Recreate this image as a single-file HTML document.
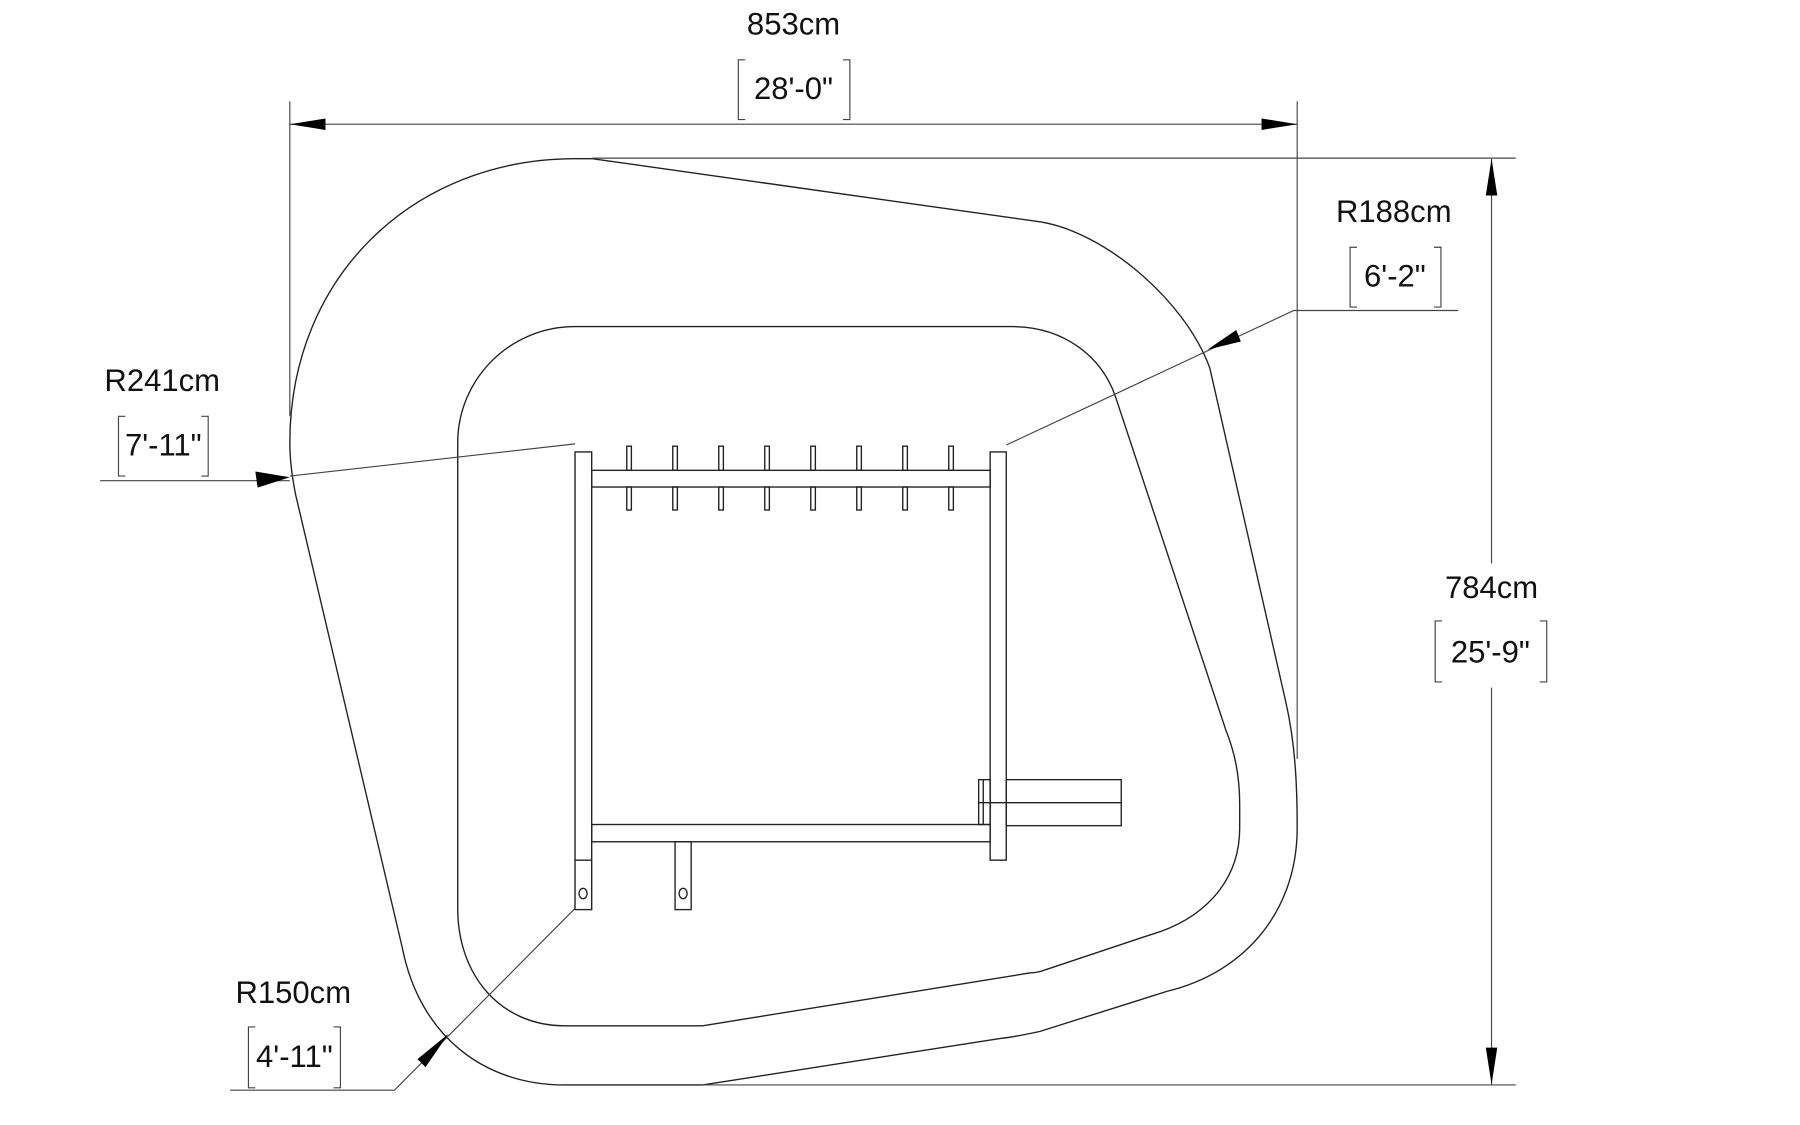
<!DOCTYPE html>
<html><head><meta charset="utf-8"><style>
html,body{margin:0;padding:0;background:#fff;}
svg{display:block}
text{font-family:"Liberation Sans",sans-serif;font-size:27px;fill:#111;text-anchor:middle}
</style></head><body>
<svg width="1800" height="1125" viewBox="0 0 1565.2 978.3" xmlns="http://www.w3.org/2000/svg">
<g fill="none" stroke="#222" stroke-width="1.2">
<path d="M252 385 C252 240 360 138 500 138 L515 138 L905 193 C960 202 1030 260 1052 320 L1118 610 C1126 645 1128 680 1128 720 C1128 790 1085 845 1015 862 L904 897 C890 900 880 902 870 903 L611 943.5 L491 943.5 C420 943.5 365 900 350 825 L257 430 C254 415 252 400 252 385 Z"/>
<path d="M500 284 L880 284 C925 284 958 310 970 345 L1066 635 C1074 655 1078 675 1078 700 L1078 720 C1078 768 1045 800 1000 813 L910 843 C905 845 900 846 896 846 L611 892 L491 892 C435 892 398 848 398 790 L398 385 C398 330 443 284 500 284 Z"/>
<rect x="500" y="393" width="14.5" height="398"/>
<line x1="500" y1="748" x2="514.5" y2="748"/>
<rect x="861" y="393" width="14" height="355"/>
<rect x="514.5" y="409" width="346.5" height="14.5"/>
<rect x="514.5" y="717" width="346.5" height="15"/>
<rect x="587" y="732" width="14" height="59"/>
<rect x="851" y="678" width="10" height="39"/>
<line x1="855" y1="678" x2="855" y2="717"/>
<rect x="875" y="678" width="100" height="40"/>
<line x1="851" y1="698" x2="975" y2="698"/>
<ellipse cx="507" cy="777" rx="3.5" ry="4.5"/>
<ellipse cx="594" cy="777" rx="3.5" ry="4.5"/>
<g>
<rect x="545" y="388" width="4" height="21"/><rect x="545" y="423.5" width="4" height="20"/>
<rect x="585" y="388" width="4" height="21"/><rect x="585" y="423.5" width="4" height="20"/>
<rect x="625" y="388" width="4" height="21"/><rect x="625" y="423.5" width="4" height="20"/>
<rect x="665" y="388" width="4" height="21"/><rect x="665" y="423.5" width="4" height="20"/>
<rect x="705" y="388" width="4" height="21"/><rect x="705" y="423.5" width="4" height="20"/>
<rect x="745" y="388" width="4" height="21"/><rect x="745" y="423.5" width="4" height="20"/>
<rect x="785" y="388" width="4" height="21"/><rect x="785" y="423.5" width="4" height="20"/>
<rect x="825" y="388" width="4" height="21"/><rect x="825" y="423.5" width="4" height="20"/>
</g>
</g>
<g fill="none" stroke="#444" stroke-width="1">
<line x1="252" y1="88" x2="252" y2="362"/>
<line x1="1128" y1="88" x2="1128" y2="660"/>
<line x1="252" y1="108" x2="1128" y2="108"/>
<line x1="515" y1="137.5" x2="1318" y2="137.5"/>
<line x1="611" y1="943.5" x2="1318" y2="943.5"/>
<line x1="1297" y1="138" x2="1297" y2="490"/>
<line x1="1297" y1="598" x2="1297" y2="943"/>
<polyline points="1268,270 1125,270 875,387"/>
<polyline points="87,418 252,418"/>
<line x1="252" y1="414" x2="500" y2="386"/>
<polyline points="200,948 343,948 500,790"/>
<path d="M648 52 H642 V104 H648 M733 52 H739 V104 H733"/>
<path d="M1180 215 H1174 V267 H1180 M1247 215 H1253 V267 H1247"/>
<path d="M109 362 H103 V414 H109 M175 362 H181 V414 H175"/>
<path d="M1254 540 H1248 V593 H1254 M1339 540 H1345 V593 H1339"/>
<path d="M222 893 H216 V946 H222 M290 893 H296 V946 H290"/>
</g>
<g fill="#000" stroke="none">
<polygon points="252,108 283,103 283,113"/>
<polygon points="1128,108 1097,103 1097,113"/>
<polygon points="1297,138 1292,170 1302,170"/>
<polygon points="1297,943 1292,911 1302,911"/>
<polygon points="252,415 222,410 224,424"/>
<polygon points="1050,304 1079,297 1075,287"/>
<polygon points="390,899 370,928 363,921"/>
</g>
<text x="690" y="30">853cm</text>
<text x="690" y="86">28'-0"</text>
<text x="1212" y="193">R188cm</text>
<text x="1213" y="249">6'-2"</text>
<text x="141" y="340">R241cm</text>
<text x="142" y="396">7'-11"</text>
<text x="1297" y="520">784cm</text>
<text x="1296" y="576">25'-9"</text>
<text x="255" y="872">R150cm</text>
<text x="256" y="928">4'-11"</text>
</svg>
</body></html>
